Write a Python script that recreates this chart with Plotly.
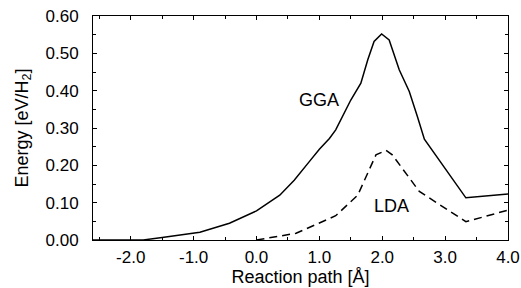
import plotly.graph_objects as go

gga_x = [-2.6, -1.8, -1.5, -0.9, -0.43, 0.0, 0.37, 0.6, 0.84, 1.0, 1.16, 1.26, 1.5, 1.66, 1.77, 1.87, 1.99, 2.11, 2.27, 2.43, 2.56, 2.67, 3.33, 4.0]
gga_y = [0.0, 0.0, 0.007, 0.021, 0.045, 0.078, 0.12, 0.16, 0.21, 0.243, 0.272, 0.295, 0.375, 0.42, 0.483, 0.532, 0.552, 0.536, 0.456, 0.398, 0.33, 0.27, 0.113, 0.123]

lda_x = [0.0, 0.63, 1.26, 1.61, 1.90, 2.06, 2.16, 2.59, 3.33, 4.0]
lda_y = [0.0, 0.018, 0.065, 0.12, 0.228, 0.24, 0.228, 0.13, 0.049, 0.08]

x_ticks = [-2.0, -1.0, 0.0, 1.0, 2.0, 3.0, 4.0]
x_labels = ["-2.0", "-1.0", "0.0", "1.0", "2.0", "3.0", "4.0"]
y_ticks = [0.0, 0.1, 0.2, 0.3, 0.4, 0.5, 0.6]
y_labels = ["0.00", "0.10", "0.20", "0.30", "0.40", "0.50", "0.60"]

fig = go.Figure()
fig.add_trace(go.Scatter(x=gga_x, y=gga_y, mode="lines", line=dict(color="black", width=1.5), name="GGA"))
fig.add_trace(go.Scatter(x=lda_x, y=lda_y, mode="lines", line=dict(color="black", width=1.5, dash="8px,5px"), name="LDA"))

fig.add_annotation(x=1.0, y=0.375, text="GGA", showarrow=False, font=dict(size=18, color="black"))
fig.add_annotation(x=2.14, y=0.09, text="LDA", showarrow=False, font=dict(size=18, color="black"))

axis_common = dict(showline=True, linecolor="black", linewidth=1, mirror="ticks", ticks="inside",
                   ticklen=4, tickcolor="black", tickwidth=1, showgrid=False, zeroline=False,
                   automargin=False, tickfont=dict(size=17, color="black"))
fig.update_xaxes(range=[-2.6, 4.0], tickvals=x_ticks, ticktext=x_labels, ticklabelstandoff=2,
                 minor=dict(dtick=0.5, ticks="inside", ticklen=3, tickcolor="black"),
                 title=dict(text="Reaction path [Å]", font=dict(size=18, color="black"), standoff=2),
                 **axis_common)
fig.update_yaxes(range=[0.0, 0.6], tickvals=y_ticks, ticktext=y_labels, ticklabelstandoff=10,
                 minor=dict(dtick=0.05, ticks="inside", ticklen=3, tickcolor="black"),
                 title=dict(text="Energy [eV/H<sub>2</sub>]", font=dict(size=18, color="black"), standoff=12),
                 **axis_common)
fig.update_layout(width=521, height=288, margin=dict(l=93, r=13, t=16, b=48),
                  plot_bgcolor="white", paper_bgcolor="white", showlegend=False,
                  font=dict(family="Liberation Sans, Arial, sans-serif", color="black"))
fig.write_html("out.html", config={"displayModeBar": False},
               post_script="document.body.style.margin='0';document.body.style.overflow='hidden';")
